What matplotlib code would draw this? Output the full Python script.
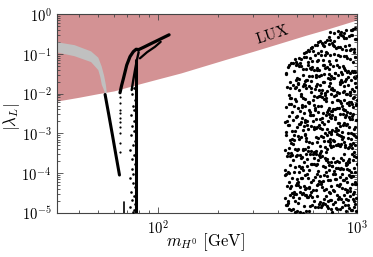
import numpy as np
import matplotlib
matplotlib.use('Agg')
import matplotlib.pyplot as plt
from matplotlib import ticker

plt.rcParams['mathtext.fontset'] = 'cm'
plt.rcParams['font.family'] = 'serif'

# LUX exclusion boundary (|lambda_L| above this is excluded)
lux_m = [31, 40, 50, 60, 80, 100, 130, 170, 220, 300, 400, 550, 700, 1000]
lux_lam = [6.5e-3, 8.1e-3, 1.0e-2, 1.17e-2, 1.74e-2, 2.34e-2, 3.3e-2, 4.95e-2,
           7.3e-2, 0.115, 0.178, 0.29, 0.41, 0.71]

# grey band (outline: upper edge left->right, then lower edge right->left)
band_m_top = [31, 38, 46, 50, 52, 53.5, 54.6, 55.2]
band_lam_top = [0.195, 0.165, 0.115, 0.08, 0.048, 0.028, 0.0165, 0.0105]
band_m_bot = [54.2, 53.0, 52.1, 51.2, 50.0, 46, 38, 31]
band_lam_bot = [0.0098, 0.0135, 0.0165, 0.026, 0.039, 0.062, 0.087, 0.108]

# black branches around m_W
diag_m = [54.1, 56.5, 58.9, 61.3, 63.9]
diag_lam = [9.5e-3, 2.9e-3, 9.1e-4, 2.9e-4, 9e-5]
arc1_m = [64.3, 65.5, 66.9, 69.5, 72.2, 75.0, 77.5, 79.5]
arc1_lam = [0.0105, 0.016, 0.024, 0.052, 0.085, 0.113, 0.13, 0.128]
arc2_m = [73.6, 75.0, 76.5, 78.2, 79.8]
arc2_lam = [0.0123, 0.022, 0.039, 0.07, 0.11]
tail1_m = [79.2, 85, 92, 100, 107, 113.5]
tail1_lam = [0.125, 0.148, 0.18, 0.22, 0.26, 0.30]
tail2_m = [81, 88, 96.4, 103]
tail2_lam = [0.077, 0.11, 0.15, 0.2]
col_m = [77.5, 77.5]
col_lam = [1e-5, 0.07]
stub_m = [67.0, 67.0]
stub_lam = [1.9e-5, 1e-5]
dotcol_m = [64.2] * 10
dotcol_lam = [8.3e-3, 5.8e-3, 3.9e-3, 3.2e-3, 2.5e-3, 1.95e-3, 1.45e-3, 1.0e-3,
              5.8e-4, 3.4e-4]
near_m = [75.8, 73.9, 76.3, 74.6, 75.2, 72.8, 76.0, 74.1, 75.5, 73.2, 76.4, 74.9,
          72.4, 75.7, 74.3, 76.1, 73.6, 75.0, 71.8, 74.7, 76.2, 73.0, 75.4, 74.0,
          76.5, 72.6, 75.9, 74.4]
near_log_lam = [-1.85, -2.0, -2.15, -2.3, -2.42, -2.55, -2.7, -2.82, -2.95, -3.05,
                -3.18, -3.3, -3.42, -3.55, -3.65, -3.78, -3.9, -4.02, -4.12, -4.25,
                -4.35, -4.47, -4.58, -4.68, -4.78, -4.85, -4.92, -4.97]

# heavy-mass scan points (log10 m, log10 |lambda_L|)
cloud_log_m = [
    2.712, 2.954, 2.667, 2.838, 2.901, 2.745, 2.983, 2.641, 2.869, 2.790,
    2.927, 2.688, 2.811, 2.973, 2.734, 2.856, 2.652, 2.995, 2.772, 2.914,
    2.698, 2.847, 2.961, 2.726, 2.880, 2.659, 2.803, 2.938, 2.757, 2.992,
    2.826, 2.679, 2.944, 2.765, 2.893, 2.704, 2.969, 2.817, 2.646, 2.874,
    2.931, 2.739, 2.862, 2.693, 2.978, 2.785, 2.908, 2.662, 2.833, 2.749,
    2.676, 2.889, 2.721, 2.957, 2.801, 2.638, 2.866, 2.987, 2.743, 2.919,
    2.852, 2.966, 2.707, 2.829, 2.684, 2.946, 2.776, 2.897, 2.655, 2.981,
    2.763, 2.905, 2.690, 2.843, 2.997, 2.728, 2.871, 2.752, 2.937, 2.812,
    2.948, 2.669, 2.795, 2.912, 2.737, 2.985, 2.823, 2.701, 2.877, 2.761,
    2.715, 2.858, 2.990, 2.781, 2.649, 2.924, 2.806, 2.963, 2.692, 2.845,
    2.884, 2.733, 2.965, 2.672, 2.819, 2.951, 2.758, 2.898, 2.711, 2.976,
    2.797, 2.940, 2.683, 2.868, 2.742, 2.993, 2.834, 2.664, 2.909, 2.770,
    2.657, 2.814, 2.929, 2.748, 2.887, 2.702, 2.972, 2.835, 2.779, 2.943,
    2.916, 2.768, 2.644, 2.855, 2.980, 2.723, 2.891, 2.808, 2.959, 2.696,
    2.831, 2.977, 2.754, 2.699, 2.925, 2.863, 2.787, 2.640, 2.952, 2.878,
    2.741, 2.892, 2.821, 2.966, 2.674, 2.799, 2.934, 2.716, 2.850, 2.988,
    2.970, 2.706, 2.860, 2.782, 2.915, 2.651, 2.840, 2.945, 2.730, 2.896,
    2.687, 2.843, 2.998, 2.760, 2.873, 2.720, 2.950, 2.805, 2.665, 2.930,
    2.883, 2.747, 2.918, 2.658, 2.798, 2.962, 2.725, 2.859, 2.989, 2.774,
    2.793, 2.949, 2.708, 2.872, 2.986, 2.767, 2.637, 2.902, 2.828, 2.681,
    2.959, 2.822, 2.678, 2.936, 2.751, 2.888, 2.995, 2.713, 2.846, 2.786,
    2.724, 2.867, 2.976, 2.806, 2.661, 2.922, 2.779, 2.953, 2.697, 2.848,
    2.899, 2.694, 2.839, 2.943, 2.766, 2.982, 2.815, 2.673, 2.911, 2.744,
    2.809, 2.958, 2.735, 2.648, 2.879, 2.792, 2.928, 2.718, 2.984, 2.856,
    2.668, 2.913, 2.794, 2.967, 2.705, 2.842, 2.756, 2.903, 2.639, 2.973,
    2.942, 2.784, 2.892, 2.729, 2.960, 2.851, 2.677, 2.819, 2.991, 2.738,
    2.753, 2.880, 2.660, 2.816, 2.939, 2.700, 2.869, 2.971, 2.789, 2.921,
    2.865, 2.727, 2.983, 2.841, 2.686, 2.906, 2.770, 2.955, 2.813, 2.654,
    2.979, 2.818, 2.746, 2.900, 2.671, 2.863, 2.997, 2.736, 2.881, 2.802,
    2.719, 2.935, 2.849, 2.663, 2.796, 2.968, 2.740, 2.886, 2.645, 2.924,
    2.836, 2.703, 2.955, 2.775, 2.910, 2.684, 2.827, 2.987, 2.761, 2.870,
    2.682, 2.864, 2.797, 2.932, 2.709, 2.978, 2.853, 2.744, 2.918, 2.666,
    2.957, 2.771, 2.889, 2.714, 2.847, 2.642, 2.962, 2.808, 2.727, 2.894,
    2.800, 2.926, 2.656, 2.876, 2.991, 2.753, 2.832, 2.689, 2.946, 2.783,
    2.893, 2.732, 2.814, 2.969, 2.653, 2.905, 2.784, 2.930, 2.859, 2.710,
    2.747, 2.986, 2.869, 2.700, 2.825, 2.948, 2.675, 2.792, 2.914, 2.838,
    2.934, 2.660, 2.780, 2.857, 2.974, 2.717, 2.888, 2.763, 2.995, 2.824,
    2.691, 2.823, 2.947, 2.738, 2.862, 2.796, 2.917, 2.650, 2.872, 2.965,
    2.853, 2.975, 2.722, 2.904, 2.771, 2.679, 2.940, 2.845, 2.736, 2.982,
    2.777, 2.891, 2.638, 2.959, 2.812, 2.929, 2.749, 2.870, 2.696, 2.907,
    2.964, 2.741, 2.873, 2.669, 2.932, 2.805, 2.980, 2.725, 2.854, 2.791,
    2.705, 2.850, 2.993, 2.788, 2.723, 2.887, 2.657, 2.948, 2.820, 2.937,
    2.871, 2.685, 2.908, 2.830, 2.960, 2.759, 2.899, 2.803, 2.672, 2.977,
    2.786, 2.938, 2.765, 2.643, 2.881, 2.994, 2.712, 2.861, 2.925, 2.733,
    2.919, 2.809, 2.693, 2.952, 2.740, 2.874, 2.822, 2.967, 2.778, 2.663,
    2.730, 2.962, 2.837, 2.906, 2.799, 2.687, 2.944, 2.757, 2.883, 2.998,
    2.845, 2.716, 2.979, 2.757, 2.895, 2.936, 2.670, 2.815, 2.972, 2.869,
    2.659, 2.898, 2.752, 2.985, 2.834, 2.719, 2.916, 2.842, 2.782, 2.950,
    2.910, 2.794, 2.933, 2.703, 2.867, 2.769, 2.996, 2.680, 2.826, 2.743,
    2.769, 2.930, 2.816, 2.882, 2.647, 2.974, 2.734, 2.901, 2.857, 2.709,
    2.987, 2.758, 2.686, 2.840, 2.955, 2.811, 2.875, 2.729, 2.963, 2.800,
    2.736, 2.877, 2.967, 2.694, 2.789, 2.913, 2.848, 2.662, 2.933, 2.818,
    2.862, 2.998, 2.771, 2.923, 2.707, 2.833, 2.956, 2.794, 2.746, 2.885,
    2.698, 2.830, 2.904, 2.750, 2.984, 2.864, 2.641, 2.927, 2.809, 2.969,
    2.941, 2.775, 2.853, 2.989, 2.727, 2.694, 2.880, 2.760, 2.915, 2.836,
    2.817, 2.920, 2.665, 2.796, 2.945, 2.857, 2.739, 2.991, 2.868, 2.701,
    2.889, 2.708, 2.956, 2.832, 2.768, 2.981, 2.651, 2.897, 2.785, 2.937,
    2.762, 2.967, 2.829, 2.683, 2.909, 2.744, 2.865, 2.952, 2.718, 2.811,
    2.975, 2.850, 2.729, 2.891, 2.656, 2.941, 2.797, 2.878, 2.992, 2.755,
    2.695, 2.801, 2.919, 2.774, 2.858, 2.699, 2.984, 2.837, 2.928, 2.644,
    2.712, 2.934, 2.801, 2.866, 2.689, 2.978, 2.745, 2.903, 2.827, 2.764,
    2.951, 2.678, 2.839, 2.772, 2.992, 2.718, 2.884, 2.693, 2.917, 2.806,
    2.859, 2.731, 2.965, 2.667, 2.788, 2.893, 2.707, 2.944, 2.753, 2.821,
    2.802, 2.941, 2.759, 2.877, 2.983, 2.845, 2.912, 2.790, 2.964, 2.771,
    2.895, 2.733, 2.958, 2.818, 2.776, 2.926, 2.861, 2.987, 2.834, 2.754,
    2.781, 2.903, 2.971, 2.851, 2.798, 2.944, 2.767, 2.886, 2.745, 2.829,
    2.873, 2.958, 2.812, 2.921, 2.990, 2.839, 2.906, 2.977, 2.851, 2.936,
    2.947, 2.826, 2.968, 2.882, 2.857, 2.995, 2.913, 2.804, 2.931, 2.866,
    2.884, 2.981, 2.921, 2.992, 2.947, 2.862, 2.968, 2.935, 2.903, 2.975,
]
cloud_log_lam = [
    -4.98, -4.81, -4.93, -4.77, -4.89, -4.96, -4.84, -4.79, -4.91, -4.86,
    -4.85, -4.97, -4.78, -4.92, -4.83, -4.88, -4.76, -4.95, -4.80, -4.90,
    -4.94, -4.82, -4.87, -4.99, -4.78, -4.91, -4.85, -4.80, -4.96, -4.77,
    -4.79, -4.90, -4.96, -4.83, -4.88, -4.76, -4.93, -4.86, -4.81, -4.98,
    -4.73, -4.56, -4.68, -4.52, -4.64, -4.71, -4.59, -4.54, -4.66, -4.61,
    -4.60, -4.72, -4.53, -4.67, -4.58, -4.63, -4.51, -4.70, -4.55, -4.65,
    -4.69, -4.57, -4.62, -4.74, -4.53, -4.66, -4.60, -4.55, -4.71, -4.52,
    -4.54, -4.65, -4.71, -4.58, -4.63, -4.51, -4.68, -4.61, -4.56, -4.73,
    -4.48, -4.31, -4.43, -4.27, -4.39, -4.46, -4.34, -4.29, -4.41, -4.36,
    -4.35, -4.47, -4.28, -4.42, -4.33, -4.38, -4.26, -4.45, -4.30, -4.40,
    -4.44, -4.32, -4.37, -4.49, -4.28, -4.41, -4.35, -4.30, -4.46, -4.27,
    -4.29, -4.40, -4.46, -4.33, -4.38, -4.26, -4.43, -4.36, -4.31, -4.48,
    -4.23, -4.06, -4.18, -4.02, -4.14, -4.21, -4.09, -4.04, -4.16, -4.11,
    -4.10, -4.22, -4.03, -4.17, -4.08, -4.13, -4.01, -4.20, -4.05, -4.15,
    -4.19, -4.07, -4.12, -4.24, -4.03, -4.16, -4.10, -4.05, -4.21, -4.02,
    -4.04, -4.15, -4.21, -4.08, -4.13, -4.01, -4.18, -4.11, -4.06, -4.23,
    -3.98, -3.81, -3.93, -3.77, -3.89, -3.96, -3.84, -3.79, -3.91, -3.86,
    -3.85, -3.97, -3.78, -3.92, -3.83, -3.88, -3.76, -3.95, -3.80, -3.90,
    -3.94, -3.82, -3.87, -3.99, -3.78, -3.91, -3.85, -3.80, -3.96, -3.77,
    -3.79, -3.90, -3.96, -3.83, -3.88, -3.76, -3.93, -3.86, -3.81, -3.98,
    -3.73, -3.56, -3.68, -3.52, -3.64, -3.71, -3.59, -3.54, -3.66, -3.61,
    -3.60, -3.72, -3.53, -3.67, -3.58, -3.63, -3.51, -3.70, -3.55, -3.65,
    -3.69, -3.57, -3.62, -3.74, -3.53, -3.66, -3.60, -3.55, -3.71, -3.52,
    -3.54, -3.65, -3.71, -3.58, -3.63, -3.51, -3.68, -3.61, -3.56, -3.73,
    -3.48, -3.31, -3.43, -3.27, -3.39, -3.46, -3.34, -3.29, -3.41, -3.36,
    -3.35, -3.47, -3.28, -3.42, -3.33, -3.38, -3.26, -3.45, -3.30, -3.40,
    -3.44, -3.32, -3.37, -3.49, -3.28, -3.41, -3.35, -3.30, -3.46, -3.27,
    -3.29, -3.40, -3.46, -3.33, -3.38, -3.26, -3.43, -3.36, -3.31, -3.48,
    -3.23, -3.06, -3.18, -3.02, -3.14, -3.21, -3.09, -3.04, -3.16, -3.11,
    -3.10, -3.22, -3.03, -3.17, -3.08, -3.13, -3.01, -3.20, -3.05, -3.15,
    -3.19, -3.07, -3.12, -3.24, -3.03, -3.16, -3.10, -3.05, -3.21, -3.02,
    -3.04, -3.15, -3.21, -3.08, -3.13, -3.01, -3.18, -3.11, -3.06, -3.23,
    -2.98, -2.81, -2.93, -2.77, -2.89, -2.96, -2.84, -2.79, -2.91, -2.86,
    -2.85, -2.97, -2.78, -2.92, -2.83, -2.88, -2.76, -2.95, -2.80, -2.90,
    -2.94, -2.82, -2.87, -2.99, -2.78, -2.91, -2.85, -2.80, -2.96, -2.77,
    -2.79, -2.90, -2.96, -2.83, -2.88, -2.76, -2.93, -2.86, -2.81, -2.98,
    -2.73, -2.56, -2.68, -2.52, -2.64, -2.71, -2.59, -2.54, -2.66, -2.61,
    -2.60, -2.72, -2.53, -2.67, -2.58, -2.63, -2.51, -2.70, -2.55, -2.65,
    -2.69, -2.57, -2.62, -2.74, -2.53, -2.66, -2.60, -2.55, -2.71, -2.52,
    -2.54, -2.65, -2.71, -2.58, -2.63, -2.51, -2.68, -2.61, -2.56, -2.73,
    -2.48, -2.31, -2.43, -2.27, -2.39, -2.46, -2.34, -2.29, -2.41, -2.36,
    -2.35, -2.47, -2.28, -2.42, -2.33, -2.38, -2.26, -2.45, -2.30, -2.40,
    -2.44, -2.32, -2.37, -2.49, -2.28, -2.41, -2.35, -2.30, -2.46, -2.27,
    -2.29, -2.40, -2.46, -2.33, -2.38, -2.26, -2.43, -2.36, -2.31, -2.48,
    -2.23, -2.06, -2.18, -2.02, -2.14, -2.21, -2.09, -2.04, -2.16, -2.11,
    -2.10, -2.22, -2.03, -2.17, -2.08, -2.13, -2.01, -2.20, -2.05, -2.15,
    -2.19, -2.07, -2.12, -2.24, -2.03, -2.16, -2.10, -2.05, -2.21, -2.02,
    -2.04, -2.15, -2.21, -2.08, -2.13, -2.01, -2.18, -2.11, -2.06, -2.23,
    -1.98, -1.81, -1.93, -1.77, -1.89, -1.96, -1.84, -1.79, -1.91, -1.86,
    -1.85, -1.97, -1.78, -1.92, -1.83, -1.88, -1.76, -1.95, -1.80, -1.90,
    -1.94, -1.82, -1.87, -1.99, -1.78, -1.91, -1.85, -1.80, -1.96, -1.77,
    -1.79, -1.90, -1.96, -1.83, -1.88, -1.76, -1.93, -1.86, -1.81, -1.98,
    -1.73, -1.56, -1.68, -1.52, -1.64, -1.71, -1.59, -1.54, -1.66, -1.61,
    -1.60, -1.72, -1.53, -1.67, -1.58, -1.63, -1.51, -1.70, -1.55, -1.65,
    -1.69, -1.57, -1.62, -1.74, -1.53, -1.66, -1.60, -1.55, -1.71, -1.52,
    -1.54, -1.65, -1.71, -1.58, -1.63, -1.51, -1.68, -1.61, -1.56, -1.73,
    -1.48, -1.31, -1.43, -1.27, -1.39, -1.46, -1.34, -1.29, -1.41, -1.36,
    -1.35, -1.47, -1.28, -1.42, -1.33, -1.38, -1.26, -1.45, -1.30, -1.40,
    -1.44, -1.32, -1.37, -1.49, -1.28, -1.41, -1.35, -1.30, -1.46, -1.27,
    -1.29, -1.40, -1.46, -1.33, -1.38, -1.26, -1.43, -1.36, -1.31, -1.48,
    -1.23, -1.06, -1.18, -1.02, -1.14, -1.21, -1.09, -1.04, -1.16, -1.11,
    -1.10, -1.22, -1.03, -1.17, -1.08, -1.13, -1.01, -1.20, -1.05, -1.15,
    -1.19, -1.07, -1.12, -1.24, -1.03, -1.16, -1.10, -1.05, -1.21, -1.02,
    -0.98, -0.81, -0.93, -0.77, -0.89, -0.96, -0.84, -0.79, -0.91, -0.86,
    -0.85, -0.97, -0.78, -0.92, -0.83, -0.88, -0.76, -0.95, -0.80, -0.90,
    -0.94, -0.82, -0.87, -0.99, -0.78, -0.91, -0.85, -0.80, -0.96, -0.77,
    -0.73, -0.56, -0.68, -0.52, -0.64, -0.71, -0.59, -0.54, -0.66, -0.61,
    -0.60, -0.72, -0.53, -0.67, -0.58, -0.63, -0.51, -0.70, -0.55, -0.65,
    -0.48, -0.37, -0.44, -0.36, -0.41, -0.46, -0.39, -0.47, -0.43, -0.40,
]

PINK = '#d39294'
GREY = '#c0c0c0'

fig = plt.figure(figsize=(3.73, 2.57), dpi=100)
ax = fig.add_axes([57 / 373, 44 / 257, 300 / 373, 199 / 257])
ax.set_xscale('log')
ax.set_yscale('log')

ax.fill_between(lux_m, lux_lam, 1.0, color=PINK, lw=0, zorder=1)
ax.fill(band_m_top + band_m_bot, band_lam_top + band_lam_bot, color=GREY, lw=0, zorder=2)

kw = dict(color='black', solid_capstyle='round', zorder=3)
ax.plot(diag_m, diag_lam, lw=2.2, **kw)
ax.plot(arc1_m, arc1_lam, lw=2.3, **kw)
ax.plot(arc2_m, arc2_lam, lw=1.7, **kw)
ax.plot(tail1_m, tail1_lam, lw=2.3, **kw)
ax.plot(tail2_m, tail2_lam, lw=1.6, **kw)
ax.plot(col_m, col_lam, lw=2.2, **kw)
ax.plot(stub_m, stub_lam, lw=1.2, **kw)
ax.scatter(dotcol_m, dotcol_lam, s=2.5, color='black', lw=0, zorder=3)
ax.scatter(near_m, 10.0 ** np.array(near_log_lam), s=3.5, color='black', lw=0, zorder=3)
ax.scatter(10.0 ** np.array(cloud_log_m), 10.0 ** np.array(cloud_log_lam),
           s=5.5, color='black', lw=0, zorder=3)

ax.text(373, 0.31, r'$\mathrm{LUX}$', rotation=18, ha='center', va='center', fontsize=11)

ax.set_xlim(31, 1000)
ax.set_ylim(1e-5, 1)
fmt = ticker.FuncFormatter(lambda v, p: r'$10^{%d}$' % round(np.log10(v)))
ax.xaxis.set_major_formatter(fmt)
ax.yaxis.set_major_formatter(fmt)
ax.xaxis.set_minor_formatter(ticker.NullFormatter())
ax.yaxis.set_minor_formatter(ticker.NullFormatter())
ax.yaxis.set_minor_locator(ticker.LogLocator(base=10, subs=np.arange(2, 10), numticks=20))
ax.xaxis.set_minor_locator(ticker.LogLocator(base=10, subs=np.arange(2, 10), numticks=20))
ax.tick_params(which='both', direction='in', top=True, right=True, width=0.6,
               color='#444444', labelsize=10.5, pad=4)
ax.tick_params(which='major', length=4)
ax.tick_params(which='minor', length=2)
for s in ax.spines.values():
    s.set_color('#444444')
    s.set_linewidth(0.8)

ax.set_xlabel(r'$m_{H^0}\ [\mathrm{GeV}]$', fontsize=12)
ax.set_ylabel(r'$|\lambda_L|$', fontsize=12)
ax.xaxis.set_label_coords(0.495, -0.09)
ax.yaxis.set_label_coords(-0.115, 0.48)

fig.savefig('out.png', dpi=100)
